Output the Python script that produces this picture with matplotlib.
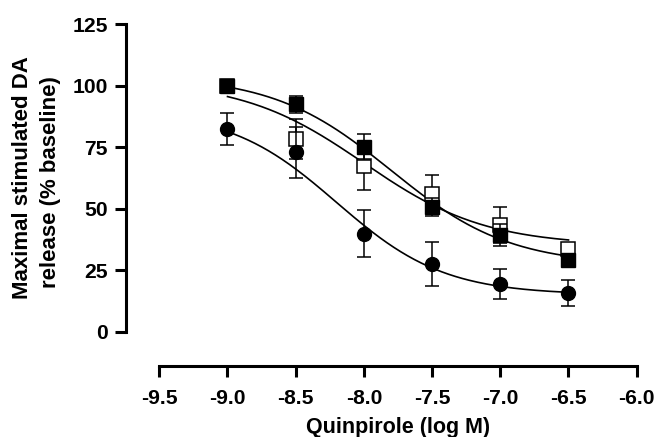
import numpy as np
import matplotlib.pyplot as plt

plt.rcParams['font.family'] = ['Liberation Sans', 'DejaVu Sans']
plt.rcParams['font.weight'] = 'bold'
plt.rcParams['axes.unicode_minus'] = False

# quinpirole concentrations (log M)
log_conc = [-9.0, -8.5, -8.0, -7.5, -7.0, -6.5]

# maximal stimulated DA release (% baseline), mean and error
filled_sq = [100, 92.4, 75.0, 50.5, 39.4, 29.0]
filled_sq_err = [0, 3.4, 5.2, 3.7, 4.4, 1.0]
open_sq = [100, 78.3, 67.2, 55.9, 43.3, 33.7]
open_sq_err = [0, 8.3, 9.8, 7.7, 7.2, 1.0]
circles = [82.3, 72.8, 39.8, 27.6, 19.4, 15.8]
circles_err = [6.5, 10.4, 9.5, 9.0, 6.1, 5.2]

# sigmoid fits: bottom, top, logEC50, hill slope
filled_fit = [27, 104, -7.8, 1.0]
open_fit = [35, 102, -8.0, 0.97]
circle_fit = [15, 90, -8.2, 1.1]

x_ticks = [-9.5, -9.0, -8.5, -8.0, -7.5, -7.0, -6.5, -6.0]
y_ticks = [0, 25, 50, 75, 100, 125]


def sigmoid(x, bottom, top, ec50, hill):
    return bottom + (top - bottom) / (1 + 10 ** ((x - ec50) * hill))


fig = plt.figure(figsize=(6.54, 4.37), dpi=100)
ax = fig.add_axes([159.3 / 654, 1 - 331.7 / 437, 477.4 / 654, 307.7 / 437])

xs = np.linspace(log_conc[0], log_conc[-1], 200)
for fit in (filled_fit, open_fit, circle_fit):
    ax.plot(xs, sigmoid(xs, *fit), color='black', lw=1.2, zorder=2)

ebar = dict(fmt='none', ecolor='black', elinewidth=1.1, capsize=5, capthick=1.1, clip_on=False)
ax.errorbar(log_conc, open_sq, yerr=open_sq_err, zorder=3, **ebar)
ax.errorbar(log_conc, circles, yerr=circles_err, zorder=5, **ebar)
ax.errorbar(log_conc, filled_sq, yerr=filled_sq_err, zorder=7, **ebar)

ax.plot(log_conc, open_sq, 's', ms=9.5, mfc='white', mec='black', mew=1.1, clip_on=False, zorder=4)
ax.plot(log_conc, circles, 'o', ms=10, mfc='black', mec='black', clip_on=False, zorder=6)
ax.plot(log_conc, filled_sq, 's', ms=9.5, mfc='black', mec='black', clip_on=False, zorder=8)

ax.set_xlim(-9.5, -6.0)
ax.set_ylim(0, 125)
ax.set_xticks(x_ticks)
ax.set_xticklabels([f"{t:.1f}" for t in x_ticks])
ax.set_yticks(y_ticks)

for s in ('top', 'right'):
    ax.spines[s].set_visible(False)
ax.spines['left'].set_position(('outward', 24.2))
ax.spines['bottom'].set_position(('outward', 24.8))
ax.spines['left'].set_bounds(0, 125)
ax.spines['bottom'].set_bounds(-9.5, -6.0)
for s in ('left', 'bottom'):
    ax.spines[s].set_linewidth(2.2)

ax.tick_params(direction='out', length=7.7, width=2.2, labelsize=15.2)
ax.tick_params(axis='y', pad=5)
ax.tick_params(axis='x', pad=8.5)

fig.text(23 / 654, 1 - 177.5 / 437, "Maximal stimulated DA", rotation=90,
         ha='center', va='center', fontsize=16, fontweight='bold')
fig.text(51 / 654, 1 - 182.5 / 437, "release (% baseline)", rotation=90,
         ha='center', va='center', fontsize=16, fontweight='bold')
fig.text(398.5 / 654, 1 - 433 / 437, "Quinpirole (log M)",
         ha='center', va='baseline', fontsize=15.5, fontweight='bold')

fig.savefig("out.png", dpi=100)
